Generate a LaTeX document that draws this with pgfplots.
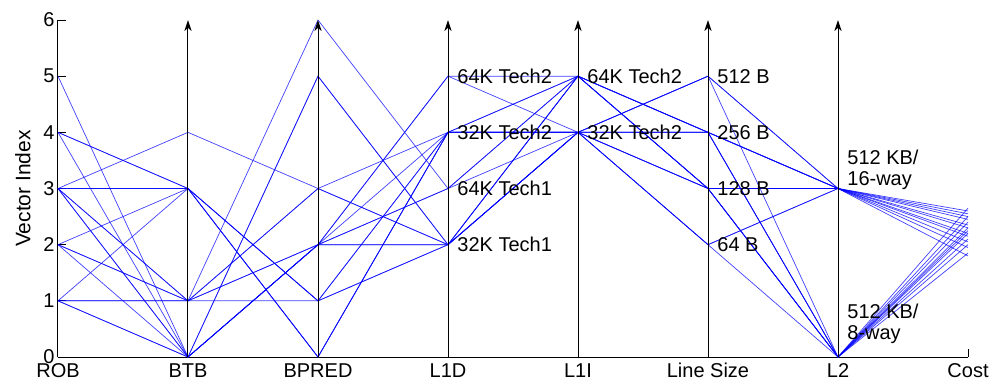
\documentclass[border=0pt]{standalone}
\usepackage{fontspec}
\setmainfont{Liberation Sans}
\usepackage{pgfplots}
\pgfplotsset{compat=1.18}
\usetikzlibrary{arrows.meta}

\begin{document}
\begin{tikzpicture}
% page frame: 500pt x 193.5pt
\path[use as bounding box] (-29pt,-15pt) rectangle (471pt,178.5pt);
\begin{axis}[
  scale only axis,
  width=455pt, height=168.5pt,
  xmin=1, xmax=8, ymin=0, ymax=6,
  clip=false,
  axis x line*=bottom,
  axis y line*=left,
  axis line style={black, line width=0.5pt},
  tick align=inside,
  major tick length=4pt,
  tick style={black, line width=0.5pt},
  xtick={1,2,3,4,5,6,7,8},
  xticklabels={ROB,BTB,BPRED,L1D,L1I,Line Size,L2,Cost},
  ytick={0,1,2,3,4,5,6},
  /pgf/number format/assume math mode=true,
  tick label style={font=\fontsize{10}{12}\selectfont, black},
  yticklabel style={inner sep=1.5pt},
  xticklabel style={inner sep=3pt},
  ylabel={Vector Index},
  ylabel style={at={(axis description cs:-0.0385,0.5)}, anchor=center,
                font=\fontsize{10.5}{12}\selectfont},
  cfg/.style={blue, line width=0.35pt, opacity=0.75},
]
% one polyline per configuration:
% ROB, BTB, BPRED, L1D, L1I, Line Size, L2, Cost
\addplot[cfg] coordinates {(1,3)(2,4)(3,3)(4,2)(5,4)(6,2)(7,0)(8,2.00)};
\addplot[cfg] coordinates {(1,4)(2,3)(3,1)(4,4)(5,4)(6,4)(7,3)(8,2.55)};
\addplot[cfg] coordinates {(1,3)(2,3)(3,0)(4,4)(5,5)(6,3)(7,3)(8,2.45)};
\addplot[cfg] coordinates {(1,2)(2,3)(3,1)(4,2)(5,5)(6,4)(7,0)(8,2.25)};
\addplot[cfg] coordinates {(1,1)(2,3)(3,0)(4,4)(5,4)(6,5)(7,3)(8,2.60)};
\addplot[cfg] coordinates {(1,3)(2,1)(3,6)(4,3)(5,5)(6,4)(7,3)(8,2.20)};
\addplot[cfg] coordinates {(1,2)(2,1)(3,3)(4,4)(5,4)(6,3)(7,0)(8,2.40)};
\addplot[cfg] coordinates {(1,1)(2,1)(3,2)(4,5)(5,5)(6,3)(7,0)(8,2.65)};
\addplot[cfg] coordinates {(1,3)(2,1)(3,1)(4,2)(5,4)(6,2)(7,3)(8,2.35)};
\addplot[cfg] coordinates {(1,5)(2,0)(3,5)(4,2)(5,5)(6,4)(7,3)(8,2.05)};
\addplot[cfg] coordinates {(1,4)(2,0)(3,2)(4,3)(5,4)(6,5)(7,0)(8,1.85)};
\addplot[cfg] coordinates {(1,3)(2,0)(3,2)(4,4)(5,4)(6,3)(7,3)(8,2.50)};
\addplot[cfg] coordinates {(1,2)(2,0)(3,2)(4,2)(5,4)(6,4)(7,0)(8,2.30)};
\addplot[cfg] coordinates {(1,1)(2,0)(3,5)(4,2)(5,4)(6,5)(7,3)(8,1.95)};
\addplot[cfg] coordinates {(1,1)(2,1)(3,3)(4,2)(5,5)(6,3)(7,0)(8,2.50)};
\addplot[cfg] coordinates {(1,2)(2,1)(3,2)(4,5)(5,4)(6,4)(7,3)(8,2.30)};
\addplot[cfg] coordinates {(1,3)(2,3)(3,1)(4,4)(5,5)(6,4)(7,0)(8,2.10)};
\addplot[cfg] coordinates {(1,1)(2,0)(3,2)(4,3)(5,5)(6,3)(7,3)(8,2.15)};
\addplot[cfg] coordinates {(1,4)(2,3)(3,0)(4,4)(5,4)(6,2)(7,3)(8,1.80)};
\addplot[cfg] coordinates {(1,3)(2,0)(3,2)(4,2)(5,4)(6,3)(7,0)(8,2.20)};

% vertical coordinate axes
\foreach \k in {2,...,7}{
  \edef\temp{\noexpand\addplot[black, line width=0.5pt,
     -{Stealth[length=5.5pt,width=3.6pt,inset=1.6pt]}]
     coordinates {(\k,0)(\k,6)};}
  \temp
}

% level names
\begin{scope}[every node/.style={anchor=west, inner sep=0pt, xshift=4.5pt,
    font=\fontsize{10}{12}\selectfont}]
\node at (axis cs:4,5) {64K Tech2};
\node at (axis cs:4,4) {32K Tech2};
\node at (axis cs:4,3) {64K Tech1};
\node at (axis cs:4,2) {32K Tech1};
\node at (axis cs:5,5) {64K Tech2};
\node at (axis cs:5,4) {32K Tech2};
\node at (axis cs:6,5) {512 B};
\node at (axis cs:6,4) {256 B};
\node at (axis cs:6,3) {128 B};
\node at (axis cs:6,2) {64 B};
\end{scope}
\node[anchor=south west, inner sep=0pt, xshift=4.5pt, yshift=-1pt, align=left,
      font=\fontsize{10}{10.5}\selectfont] at (axis cs:7,3) {512 KB/\\16-way};
\node[anchor=south west, inner sep=0pt, xshift=4.5pt, align=left,
      font=\fontsize{10}{10.5}\selectfont] at (axis cs:7,0.23) {512 KB/\\8-way};
\end{axis}
\end{tikzpicture}
\end{document}
